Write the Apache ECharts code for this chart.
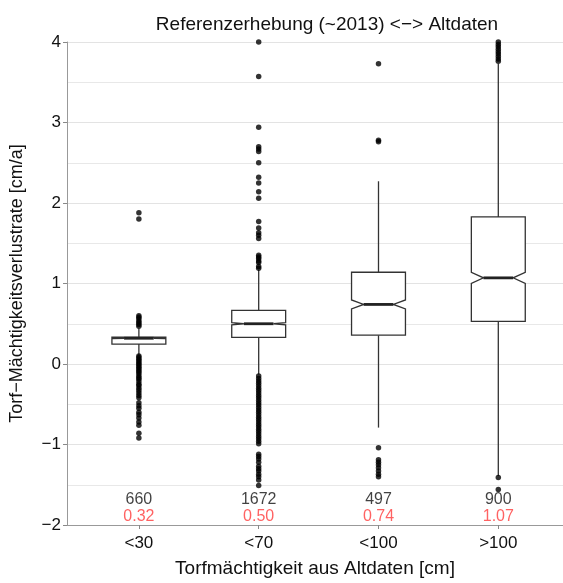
<!DOCTYPE html>
<html>
<head>
<meta charset="utf-8">
<script src="https://cdn.jsdelivr.net/npm/echarts@6/dist/echarts.min.js"></script>
<style>
html,body{margin:0;padding:0;background:#fff}
#main{width:563px;height:583px}
</style>
</head>
<body>
<div id="main"></div>
<script>
// Torfmächtigkeit-Klassen
var categories = ['<30', '<70', '<100', '>100'];
var counts = [660, 1672, 497, 900];
var medians = [0.32, 0.50, 0.74, 1.07];
var q1 = [0.247, 0.33, 0.358, 0.53];
var q3 = [0.333, 0.667, 1.14, 1.827];
var whiskerLow = [0.11, -0.13, -0.79, -1.39];
var whiskerHigh = [0.44, 1.17, 2.27, 3.73];

// Ausreisser je Klasse
var out30 = [1.88, 1.80, 0.60, 0.58, 0.56, 0.53, 0.51, 0.49, 0.47,
    0.10, 0.08, 0.06, 0.04, 0.02, 0.0, -0.02, -0.04, -0.06, -0.08, -0.10, -0.12, -0.15,
    -0.17, -0.19, -0.22, -0.25, -0.27, -0.30, -0.33, -0.36, -0.39, -0.42,
    -0.48, -0.52, -0.55, -0.60, -0.63, -0.67, -0.72, -0.76, -0.86, -0.92];
var out70 = [4.0, 3.57, 2.94, 2.70, 2.67, 2.64, 2.50, 2.32, 2.25, 2.14, 2.06,
    1.77, 1.69, 1.63, 1.60, 1.56, 1.35, 1.33, 1.31, 1.28, 1.26, 1.21, 1.19,
    -0.15, -0.18, -0.21, -0.24, -0.27, -0.30, -0.33, -0.36, -0.39, -0.42, -0.45, -0.48,
    -0.51, -0.54, -0.57, -0.60, -0.63, -0.66, -0.69, -0.72, -0.75, -0.78, -0.81, -0.84,
    -0.87, -0.90, -0.93, -0.96, -0.99,
    -1.12, -1.15, -1.18, -1.22, -1.27, -1.30, -1.33, -1.37, -1.40, -1.44, -1.51];
var out100 = [3.73, 2.78, 2.76, -1.04, -1.19, -1.22, -1.25, -1.29, -1.33, -1.37, -1.40];
var outOver100 = [4.0, 3.97, 3.94, 3.91, 3.88, 3.85, 3.82, 3.79, 3.76, -1.41, -1.56];
var outliers = [out30, out70, out100, outOver100];

var font = "'Liberation Sans', Arial, sans-serif";
var minus = function (v) { return v < 0 ? '\u2212' + (-v) : String(v); };

var boxData = [];
var outData = [];
var countData = [];
var medData = [];
for (var i = 0; i < categories.length; i++) {
    boxData.push([i + 1, whiskerLow[i], q1[i], medians[i], q3[i], whiskerHigh[i], counts[i]]);
    outliers[i].forEach(function (v) { outData.push([i + 1, v]); });
    countData.push([i + 1, -1.68, counts[i]]);
    medData.push([i + 1, -1.89, medians[i].toFixed(2)]);
}

var halfW = 0.225;   // halbe Boxbreite (Kategorie-Einheiten)
var notchW = 0.55;   // Kerbbreite relativ

function renderBox(params, api) {
    var x = api.value(0), lo = api.value(1), a = api.value(2), m = api.value(3),
        b = api.value(4), hi = api.value(5), n = api.value(6);
    var nt = 1.58 * (b - a) / Math.sqrt(n);
    var w = halfW, nw = halfW * notchW;
    var pts = [
        [x - w, b], [x + w, b], [x + w, m + nt], [x + nw, m], [x + w, m - nt],
        [x + w, a], [x - w, a], [x - w, m - nt], [x - nw, m], [x - w, m + nt]
    ].map(function (p) { return api.coord(p); });
    var style = { stroke: '#333', lineWidth: 1.3, fill: null };
    var seg = function (p1, p2, st) {
        var c1 = api.coord(p1), c2 = api.coord(p2);
        return { type: 'line', shape: { x1: c1[0], y1: c1[1], x2: c2[0], y2: c2[1] }, style: st };
    };
    return {
        type: 'group',
        children: [
            seg([x, b], [x, hi], style),
            seg([x, a], [x, lo], style),
            { type: 'polygon', shape: { points: pts }, style: { stroke: '#333', lineWidth: 1.3, fill: '#fff' } },
            seg([x - nw, m], [x + nw, m], { stroke: '#222', lineWidth: 2.8 })
        ]
    };
}

var chart = echarts.init(document.getElementById('main'));
var option = {
    backgroundColor: '#fff',
    animation: false,
    textStyle: { fontFamily: font },
    title: {
        text: 'Referenzerhebung (~2013) <\u2212> Altdaten',
        left: 322, top: 10, textAlign: 'center',
        textStyle: { fontFamily: font, fontSize: 19, fontWeight: 'normal', color: '#111' }
    },
    grid: { left: 66, right: 0, top: 42, bottom: 55 },
    xAxis: {
        type: 'value', min: 0.4, max: 4.54,
        name: 'Torfmächtigkeit aus Altdaten [cm]',
        nameLocation: 'middle', nameGap: 34,
        nameTextStyle: { fontFamily: font, fontSize: 19, color: '#111' },
        axisLine: { show: true, onZero: false, lineStyle: { color: '#999', width: 1 } },
        axisTick: { show: true, customValues: [1, 2, 3, 4], length: 4, lineStyle: { color: '#888' } },
        axisLabel: {
            customValues: [1, 2, 3, 4], margin: 10,
            fontFamily: font, fontSize: 17, color: '#111',
            formatter: function (v) { return categories[Math.round(v) - 1]; }
        },
        splitLine: { show: false }
    },
    yAxis: {
        type: 'value', min: -2, max: 4, interval: 1,
        name: 'Torf\u2212Mächtigkeitsverlustrate [cm/a]',
        nameLocation: 'middle', nameGap: 41, nameRotate: 90,
        nameTextStyle: { fontFamily: font, fontSize: 18, color: '#111' },
        axisLine: { show: true, lineStyle: { color: '#999', width: 1 } },
        axisTick: { show: true, length: 4, lineStyle: { color: '#888' } },
        axisLabel: { fontFamily: font, fontSize: 17, color: '#111', margin: 6, formatter: minus },
        splitLine: { show: true, lineStyle: { color: '#e3e3e3', width: 1 } },
        minorTick: { show: false, splitNumber: 2 },
        minorSplitLine: { show: true, lineStyle: { color: '#e8e8e8', width: 1 } }
    },
    series: [
        {
            type: 'custom', name: 'box',
            renderItem: renderBox,
            encode: { x: 0, y: [1, 2, 3, 4, 5] },
            data: boxData, z: 3
        },
        {
            type: 'scatter', name: 'Ausreisser',
            data: outData, symbolSize: 5.5, clip: false,
            itemStyle: { color: '#000' }, z: 4
        },
        {
            type: 'scatter', name: 'n',
            data: countData, symbolSize: 0,
            label: { show: true, position: 'inside', fontFamily: font, fontSize: 16, color: '#111',
                formatter: function (p) { return p.value[2]; } }
        },
        {
            type: 'scatter', name: 'median',
            data: medData, symbolSize: 0,
            label: { show: true, position: 'inside', fontFamily: font, fontSize: 16, color: '#ff3b3b',
                formatter: function (p) { return p.value[2]; } }
        }
    ]
};
chart.setOption(option);
</script>
</body>
</html>
